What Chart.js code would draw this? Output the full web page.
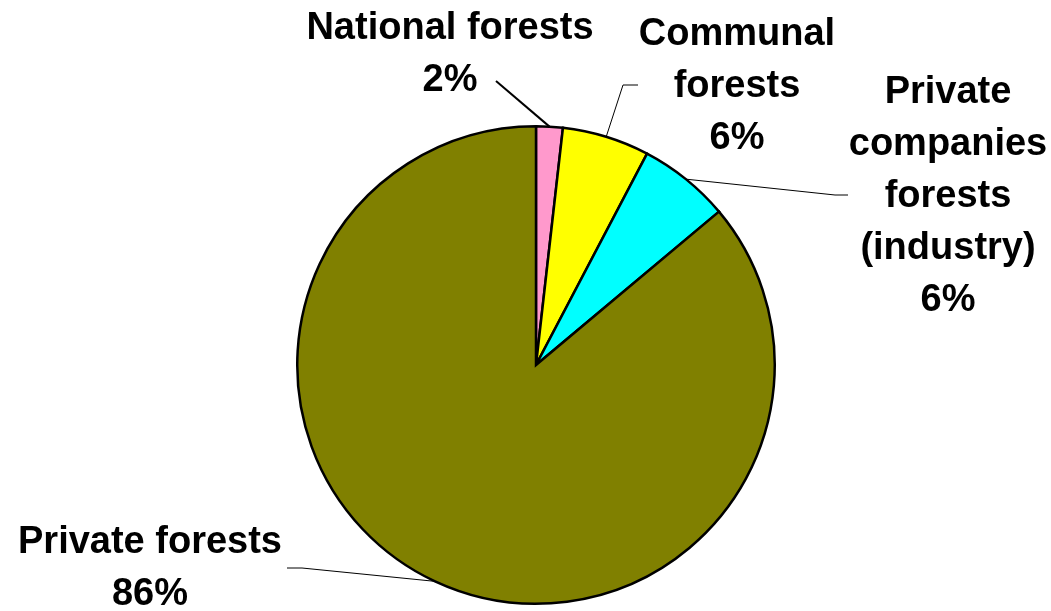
<!DOCTYPE html>
<html>
<head>
<meta charset="utf-8">
<script src="https://cdn.jsdelivr.net/npm/chart.js@4/dist/chart.umd.min.js"></script>
<style>
  html, body { margin: 0; padding: 0; background: #fff; }
  #wrap { width: 1051px; height: 611px; }
</style>
</head>
<body>
<div id="wrap"><canvas id="c"></canvas></div>
<script>
const categories = ["National forests", "Communal forests", "Private companies forests (industry)", "Private forests"];
const shares = [1.8, 5.9, 6.2, 86.1];
const colors = ["#FF99CC", "#FFFF00", "#00FFFF", "#808000"];

// label blocks: line breaks, centre x, first line y, leader elbow + end
const labelLayout = [
  { lines: ["National forests"], x: 450, y: 29, elbow: [496, 81], end: [496, 81], width: 2 },
  { lines: ["Communal", "forests"], x: 737, y: 35, elbow: [623, 85], end: [638, 85], width: 1 },
  { lines: ["Private", "companies", "forests", "(industry)"], x: 948, y: 93, elbow: [835, 195], end: [848, 195], width: 1 },
  { lines: ["Private forests"], x: 150, y: 543, elbow: [302, 568], end: [287, 568], width: 1 },
];
const lineH = 52;

const total = shares.reduce((a, b) => a + b, 0);
const pctText = shares.map((v) => Math.round((v / total) * 100) + "%");

const pieLabels = {
  id: "pieLabels",
  afterDraw(chart) {
    const ctx = chart.ctx;
    const meta = chart.getDatasetMeta(0);
    ctx.save();
    meta.data.forEach((arc, i) => {
      const p = arc.getProps(["x", "y", "startAngle", "endAngle", "outerRadius"], true);
      const mid = (p.startAngle + p.endAngle) / 2;
      const sx = p.x + Math.cos(mid) * p.outerRadius;
      const sy = p.y + Math.sin(mid) * p.outerRadius;
      const L = labelLayout[i];
      ctx.strokeStyle = "#000";
      ctx.lineWidth = L.width;
      ctx.beginPath();
      ctx.moveTo(sx, sy);
      ctx.lineTo(L.elbow[0], L.elbow[1]);
      ctx.lineTo(L.end[0], L.end[1]);
      ctx.stroke();

      ctx.fillStyle = "#000";
      ctx.font = "bold 38px 'Liberation Sans', Arial, sans-serif";
      ctx.textAlign = "center";
      ctx.textBaseline = "middle";
      const rows = L.lines.concat([pctText[i]]);
      rows.forEach((t, k) => ctx.fillText(t, L.x, L.y + k * lineH));
    });
    ctx.restore();
  },
};

new Chart(document.getElementById("c"), {
  type: "pie",
  data: {
    labels: categories,
    datasets: [
      {
        data: shares,
        backgroundColor: colors,
        borderColor: "#000",
        borderWidth: 2.5,
        borderJoinStyle: "miter",
      },
    ],
  },
  options: {
    responsive: true,
    maintainAspectRatio: false,
    animation: false,
    layout: { padding: { top: 124, bottom: 5, left: 296, right: 275 } },
    plugins: {
      legend: { display: false },
      tooltip: { enabled: false },
    },
  },
  plugins: [pieLabels],
});
</script>
</body>
</html>
